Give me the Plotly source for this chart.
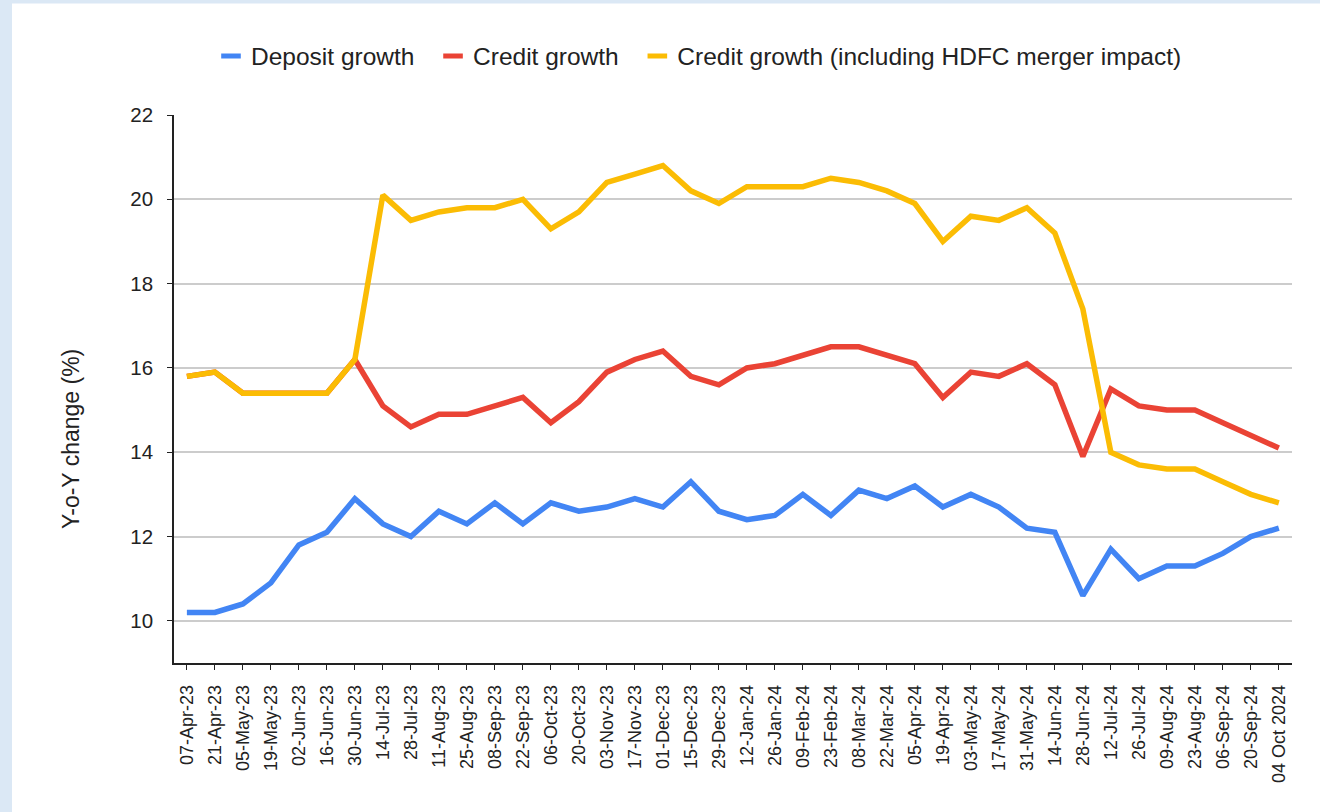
import plotly.graph_objects as go

# Fortnightly reporting dates
dates = [
    "07-Apr-23", "21-Apr-23", "05-May-23", "19-May-23", "02-Jun-23", "16-Jun-23",
    "30-Jun-23", "14-Jul-23", "28-Jul-23", "11-Aug-23", "25-Aug-23", "08-Sep-23",
    "22-Sep-23", "06-Oct-23", "20-Oct-23", "03-Nov-23", "17-Nov-23", "01-Dec-23",
    "15-Dec-23", "29-Dec-23", "12-Jan-24", "26-Jan-24", "09-Feb-24", "23-Feb-24",
    "08-Mar-24", "22-Mar-24", "05-Apr-24", "19-Apr-24", "03-May-24", "17-May-24",
    "31-May-24", "14-Jun-24", "28-Jun-24", "12-Jul-24", "26-Jul-24", "09-Aug-24",
    "23-Aug-24", "06-Sep-24", "20-Sep-24", "04 Oct 2024",
]

# Year-on-year growth, %
deposit_growth = [
    10.2, 10.2, 10.4, 10.9, 11.8, 12.1, 12.9, 12.3, 12.0, 12.6,
    12.3, 12.8, 12.3, 12.8, 12.6, 12.7, 12.9, 12.7, 13.3, 12.6,
    12.4, 12.5, 13.0, 12.5, 13.1, 12.9, 13.2, 12.7, 13.0, 12.7,
    12.2, 12.1, 10.6, 11.7, 11.0, 11.3, 11.3, 11.6, 12.0, 12.2,
]
credit_growth = [
    15.8, 15.9, 15.4, 15.4, 15.4, 15.4, 16.2, 15.1, 14.6, 14.9,
    14.9, 15.1, 15.3, 14.7, 15.2, 15.9, 16.2, 16.4, 15.8, 15.6,
    16.0, 16.1, 16.3, 16.5, 16.5, 16.3, 16.1, 15.3, 15.9, 15.8,
    16.1, 15.6, 13.9, 15.5, 15.1, 15.0, 15.0, 14.7, 14.4, 14.1,
]
credit_growth_hdfc = [
    15.8, 15.9, 15.4, 15.4, 15.4, 15.4, 16.2, 20.1, 19.5, 19.7,
    19.8, 19.8, 20.0, 19.3, 19.7, 20.4, 20.6, 20.8, 20.2, 19.9,
    20.3, 20.3, 20.3, 20.5, 20.4, 20.2, 19.9, 19.0, 19.6, 19.5,
    19.8, 19.2, 17.4, 14.0, 13.7, 13.6, 13.6, 13.3, 13.0, 12.8,
]

series = [
    ("Deposit growth", deposit_growth, "#4285F4"),
    ("Credit growth", credit_growth, "#EA4335"),
    ("Credit growth (including HDFC merger impact)", credit_growth_hdfc, "#FBBC04"),
]

FONT = "Liberation Sans, Arial, sans-serif"
TEXT = "#222222"

W, H = 1320, 812
ML, MR, MT, MB = 174, 28, 115, 149
PW, PH = W - ML - MR, H - MT - MB


def px_x(x):
    return (x - ML) / PW


def px_y(y):
    return (H - MB - y) / PH


fig = go.Figure()

for name, values, color in series:
    fig.add_trace(go.Scatter(
        x=dates, y=values, mode="lines", name=name,
        line=dict(color=color, width=5.5),
        showlegend=False,
    ))

# short bar-style legend keys
spacer = "\u00a0\u00a0"
for i, (name, values, color) in enumerate(series):
    fig.add_trace(go.Scatter(
        x=[None], y=[None], mode="markers",
        name=name + (spacer if i < len(series) - 1 else ""),
        marker=dict(symbol="line-ew", size=14, color=color,
                    line=dict(color=color, width=5)),
        showlegend=True,
    ))

# page frame strips
frame = "#dbe8f5"
fig.add_shape(type="rect", xref="paper", yref="paper", layer="below",
              x0=px_x(0), x1=px_x(12), y0=px_y(H), y1=px_y(0),
              line=dict(width=0), fillcolor=frame)
fig.add_shape(type="rect", xref="paper", yref="paper", layer="below",
              x0=px_x(0), x1=px_x(W), y0=px_y(3.5), y1=px_y(0),
              line=dict(width=0), fillcolor=frame)

fig.add_annotation(
    text="Y-o-Y change (%)", textangle=-90,
    xref="paper", yref="paper", x=px_x(71), y=px_y(439),
    xanchor="center", yanchor="middle", showarrow=False,
    font=dict(family=FONT, size=23, color=TEXT),
)

fig.update_layout(
    width=W, height=H,
    margin=dict(l=ML, r=MR, t=MT, b=MB, autoexpand=False),
    paper_bgcolor="white", plot_bgcolor="white",
    font=dict(family=FONT, color=TEXT),
    legend=dict(
        orientation="h", x=px_x(211), y=px_y(56),
        xanchor="left", yanchor="middle",
        font=dict(family=FONT, size=24.5, color=TEXT),
        bgcolor="rgba(0,0,0,0)",
    ),
    xaxis=dict(
        type="category", range=[-0.46, 39.47],
        tickangle=-90, tickfont=dict(family=FONT, size=18, color=TEXT),
        showgrid=False, zeroline=False,
        showline=True, linecolor="#222222", linewidth=1.5,
        ticks="outside", ticklen=5, tickcolor="#222222", tickwidth=1.2,
        ticklabelstandoff=8,
    ),
    yaxis=dict(
        range=[9, 22], tick0=10, dtick=2,
        tickfont=dict(family=FONT, size=20.5, color=TEXT),
        showgrid=True, gridcolor="#cccccc", gridwidth=1.5,
        zeroline=False,
        showline=True, linecolor="#222222", linewidth=1.5,
        ticks="outside", ticklen=5, tickcolor="#222222", tickwidth=1.2,
        ticklabelstandoff=10,
    ),
)

fig.write_html("out.html")
